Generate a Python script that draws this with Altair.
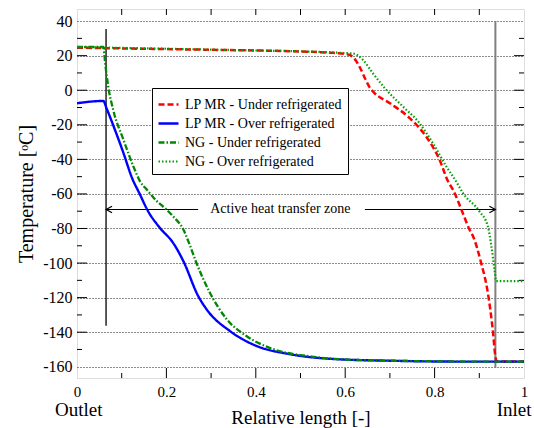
import altair as alt
import pandas as pd

FONT = "Liberation Serif"

series_names = ["LP MR - Under refrigerated", "LP MR - Over refrigerated",
                "NG - Under refrigerated", "NG - Over refrigerated"]
series_colors = ["#ff0000", "#0000ff", "#008800", "#00a000"]
series_dashes = [[6, 3], [1, 0], [6, 2, 1.5, 2], [1.5, 2]]
series_widths = [2.5, 2.2, 2.0, 1.6]

# LP MR - Under refrigerated (red dashed)
x_lp_under = [0, 0.1, 0.2, 0.3, 0.4, 0.5, 0.56, 0.6, 0.61, 0.62, 0.632, 0.645, 0.655,
              0.665, 0.70, 0.744, 0.781, 0.811, 0.83, 0.841, 0.863, 0.878, 0.886,
              0.904, 0.919, 0.930, 0.937, 0.94, 1.0]
y_lp_under = [24.6, 24.2, 23.8, 23.4, 23.0, 22.4, 21.8, 21.0, 20.4, 18.5, 13.6, 6.5, 1.5,
              -1.5, -7.5, -16.1, -26.8, -40.2, -52.7, -57.5, -71, -80.6, -84.5,
              -99.8, -117, -138.3, -155.6, -157, -157]

# LP MR - Over refrigerated (blue solid)
x_lp_over = [0, 0.059, 0.066, 0.085, 0.104, 0.122, 0.141, 0.159, 0.185, 0.215, 0.238,
             0.271, 0.29, 0.342, 0.402, 0.476, 0.58, 0.7, 0.85, 1.0]
y_lp_over = [-7.5, -6.2, -10.4, -23, -36.4, -50, -60.4, -70, -79.5, -88.3, -98.9,
             -119, -126.8, -139.3, -148, -152.7, -155.6, -156.5, -157, -157]

# NG - Under refrigerated (green dash-dot)
x_ng_under = [0, 0.059, 0.063, 0.070, 0.081, 0.104, 0.126, 0.141, 0.156, 0.178, 0.2,
              0.215, 0.238, 0.25, 0.267, 0.297, 0.335, 0.379, 0.439, 0.513, 0.6, 0.7,
              0.8, 0.9, 1.0]
y_ng_under = [25, 25, 15.6, 2, -11.4, -28.7, -44, -52.7, -57.5, -64, -69,
              -73, -80.6, -88, -99.8, -117, -132.5, -142.2, -149.8, -153.7, -155.8, -156.5,
              -156.8, -157, -157]

# NG - Over refrigerated (green dotted)
x_ng_over = [0, 0.1, 0.2, 0.3, 0.4, 0.5, 0.56, 0.6, 0.617, 0.64, 0.662, 0.692, 0.729,
             0.766, 0.796, 0.826, 0.848, 0.863, 0.9, 0.919, 0.927, 0.934, 0.938, 1.0]
y_ng_over = [25, 24.5, 24, 23.5, 23.0, 22.5, 22, 21.5, 21.3, 17.5, 9.8, 0.2, -9.4,
             -19, -30.6, -44, -52.7, -59.4, -70, -78.7, -90.2, -103.7, -110.4, -110.4]

y_ticks = [-160, -140, -120, -100, -80, -60, -40, -20, 0, 20, 40]
y_minor = [-150, -130, -110, -90, -70, -50, -30, -10, 10, 30]
x_ticks = [0, 0.2, 0.4, 0.6, 0.8, 1]
x_major_inner = [0.2, 0.4, 0.6, 0.8]
x_minor = [0.1, 0.3, 0.5, 0.7, 0.9]
x_all_inner = [0.1, 0.2, 0.3, 0.4, 0.5, 0.6, 0.7, 0.8, 0.9]

W, H = 447, 369
xdom = [0, 1]
ydom = [-166.5, 47]

rows = []
for name, xs_, ys_ in zip(series_names,
                          [x_lp_under, x_lp_over, x_ng_under, x_ng_over],
                          [y_lp_under, y_lp_over, y_ng_under, y_ng_over]):
    for i, (a, b) in enumerate(zip(xs_, ys_)):
        rows.append({"series": name, "x": a, "y": b, "i": i})
df = pd.DataFrame(rows)

xs = alt.Scale(domain=xdom, nice=False, zero=False)
ys = alt.Scale(domain=ydom, nice=False, zero=False)

axis_x = alt.Axis(
    values=x_ticks, format="~g", ticks=False, grid=False, domain=False,
    labelOverlap=False, labelFlush=False,
    labelFont=FONT, labelFontSize=15, labelColor="black", labelPadding=6,
    title="Relative length [-]", titleFont=FONT, titleFontSize=19,
    titleFontWeight="normal", titleColor="black", titlePadding=9)
axis_y = alt.Axis(
    values=y_ticks, ticks=False, domain=False, grid=True,
    labelOverlap=False, labelFlush=False,
    labelExpr="datum.value < 0 ? '-' + format(-datum.value, 'd') : format(datum.value, 'd')",
    gridDash=[1, 2], gridColor="black", gridWidth=1, gridOpacity=0.9,
    labelFont=FONT, labelFontSize=16, labelColor="black", labelPadding=5,
    title="Temperature [ᵒC]", titleFont=FONT, titleFontSize=20,
    titleFontWeight="normal", titleColor="black", titlePadding=6)


def X(field):
    return alt.X(field, type="quantitative", scale=xs, axis=axis_x)


def Y(field):
    return alt.Y(field, type="quantitative", scale=ys, axis=axis_y)


legend = alt.Legend(orient="none", legendX=75, legendY=79, title=None,
                    symbolType="stroke", symbolSize=400, symbolStrokeWidth=2,
                    labelFont=FONT, labelFontSize=14, labelColor="black",
                    fillColor="white", strokeColor="black", padding=5,
                    rowPadding=0, labelOffset=5, labelLimit=300)

lines = alt.Chart(df).mark_line(clip=True, interpolate="monotone").encode(
    x=X("x"),
    y=Y("y"),
    color=alt.Color("series:N", scale=alt.Scale(domain=series_names, range=series_colors),
                    legend=legend),
    strokeDash=alt.StrokeDash("series:N", scale=alt.Scale(domain=series_names, range=series_dashes),
                              legend=legend),
    strokeWidth=alt.StrokeWidth("series:N", scale=alt.Scale(domain=series_names, range=series_widths),
                                legend=None),
    order="i:Q",
)


# tick marks (inward)
def ticks_x(vals, y0, y1):
    return alt.Chart(pd.DataFrame({"v": vals})).mark_rule(color="black", strokeWidth=1).encode(
        x=X("v"), y=alt.value(y0), y2=alt.value(y1))


def ticks_y(vals, x0, x1):
    return alt.Chart(pd.DataFrame({"v": vals})).mark_rule(color="black", strokeWidth=1).encode(
        y=Y("v"), x=alt.value(x0), x2=alt.value(x1))


tick_layers = [
    ticks_x(x_major_inner, H, H - 10),
    ticks_x(x_minor, H, H - 5),
    ticks_x(x_all_inner, 0, 6),
    ticks_y(y_minor, 0, 5),
    ticks_y(y_minor, W, W - 5),
    ticks_y(y_ticks[1:-1], 0, 10),
    ticks_y(y_ticks[1:-1], W, W - 10),
]

# zone markers
zone_left = [0.065]
zone_right = [0.936]
black_line = alt.Chart(pd.DataFrame({"x": zone_left, "y": [35.5], "y2": [-136.3]})).mark_rule(
    color="black", strokeWidth=1.3).encode(x=X("x"), y=Y("y"), y2="y2:Q")
gray_line = alt.Chart(pd.DataFrame({"x": zone_right, "y": [40], "y2": [-160.6]})).mark_rule(
    color="#808080", strokeWidth=2).encode(x=X("x"), y=Y("y"), y2="y2:Q")

arrow_y = -69
arrow_df = pd.DataFrame({"x": [0.065, 0.644], "x2": [0.271, 0.936], "y": [arrow_y, arrow_y]})
arrow_lines = alt.Chart(arrow_df).mark_rule(color="black", strokeWidth=1.2).encode(
    x=X("x"), x2="x2:Q", y=Y("y"))
head_l = alt.Chart(pd.DataFrame({"x": [0.065], "y": [arrow_y]})).mark_point(
    shape="M 1 -0.55 L 0 0 L 1 0.55", filled=False, size=144, color="black", strokeWidth=1.2,
    opacity=1).encode(x=X("x"), y=Y("y"))
head_r = alt.Chart(pd.DataFrame({"x": [0.936], "y": [arrow_y]})).mark_point(
    shape="M -1 -0.55 L 0 0 L -1 0.55", filled=False, size=144, color="black", strokeWidth=1.2,
    opacity=1).encode(x=X("x"), y=Y("y"))
zone_text = alt.Chart(pd.DataFrame({"x": [0.455], "y": [arrow_y], "t": ["Active heat transfer zone"]})).mark_text(
    font=FONT, fontSize=14, color="black", baseline="middle", align="center").encode(
    x=X("x"), y=Y("y"), text="t:N")

end_labels = alt.Chart(pd.DataFrame({"x": [0.004, 0.978], "y": [-188.5, -188.5], "t": ["Outlet", "Inlet"]})).mark_text(
    font=FONT, fontSize=19, color="black", baseline="alphabetic", align="center").encode(
    x=X("x"), y=Y("y"), text="t:N")

chart = alt.layer(
    *tick_layers, black_line, gray_line, arrow_lines, head_l, head_r, zone_text,
    lines, end_labels
).properties(
    width=W, height=H,
    padding={"left": 77, "top": 9, "right": 10, "bottom": 50},
    autosize=alt.AutoSizeParams(type="none"),
).configure_view(stroke="black", strokeWidth=2).configure(background="white")

chart.save("out.html", embed_options={"renderer": "svg", "actions": False})
